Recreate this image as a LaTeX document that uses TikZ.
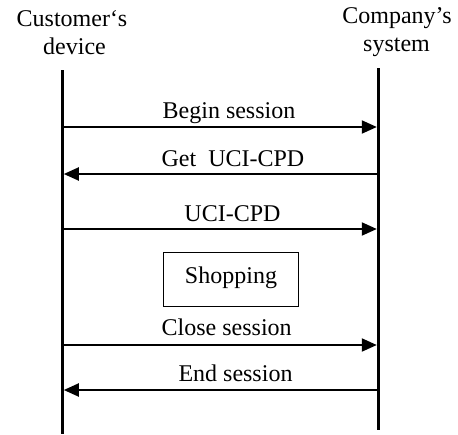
\documentclass[tikz,border=0pt]{standalone}
\usepackage{fontspec}
\setmainfont{Liberation Serif}
\usetikzlibrary{arrows.meta}
\begin{document}
\begin{tikzpicture}[x=1pt,y=-1pt,
  lbl/.style={anchor=base,inner sep=0pt,font=\fontsize{24}{28}\selectfont},
  life/.style={line width=3pt},
  msg/.style={line width=2pt,-{Triangle[length=15pt,width=13pt]},shorten >=1.5pt},
  boxstyle/.style={draw,line width=1pt,minimum width=135pt,minimum height=54pt,inner sep=0pt}]
\useasboundingbox (0,0) rectangle (458,434);
% headers
\node[lbl] (c1) at (72,26) {Customer‘s};
\node[lbl] (c2) at (74.5,54) {device};
\node[lbl] (s1) at (397,23) {Company’s};
\node[lbl] (s2) at (396.5,51.5) {system};
% lifelines
\coordinate (Ltop) at (62.3,70);
\coordinate (Lbot) at (62.3,434);
\coordinate (Rtop) at (378.3,68);
\coordinate (Rbot) at (378.3,430);
\draw[life] (Ltop) -- (Lbot);
\draw[life] (Rtop) -- (Rbot);
% message end points
\foreach \i/\y in {1/127,2/174,3/229,4/345,5/390}{
  \coordinate (L\i) at (62.3,\y);
  \coordinate (R\i) at (378.3,\y);
}
\draw[msg] (L1) -- (R1);
\node[lbl] (t1) at (229,118) {Begin session};
\draw[msg] (R2) -- (L2);
\node[lbl] (t2) at (233,166) {Get~~UCI-CPD};
\draw[msg] (L3) -- (R3);
\node[lbl] (t3) at (232.5,221.7) {UCI-CPD};
\node[boxstyle] (shop) at (230.5,279) {};
\node[lbl] (t4) at (231,283) {Shopping};
\draw[msg] (L4) -- (R4);
\node[lbl] (t5) at (226.7,335.7) {Close session};
\draw[msg] (R5) -- (L5);
\node[lbl] (t6) at (235.5,381.7) {End session};
\end{tikzpicture}
\end{document}
